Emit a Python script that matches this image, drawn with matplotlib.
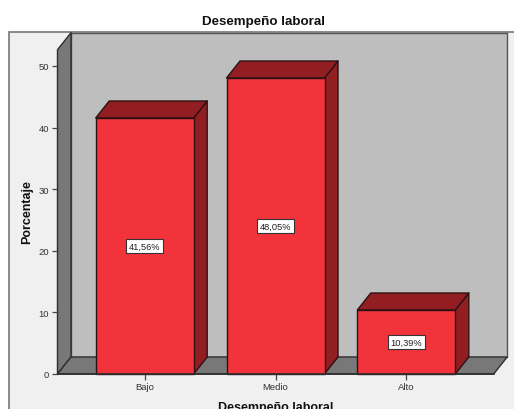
import numpy as np
import matplotlib
matplotlib.use("Agg")
import matplotlib.pyplot as plt
from matplotlib.patches import Polygon, Rectangle

plt.rcParams['font.family'] = ['Liberation Sans', 'DejaVu Sans']

categories = ['Bajo', 'Medio', 'Alto']
values = [41.56, 48.05, 10.39]
bar_labels = ['41,56%', '48,05%', '10,39%']
yticks = [0, 10, 20, 30, 40, 50]

W, H = 514, 410
RED = '#f2333b'
DARK_RED = '#931e22'
EDGE = '#2b1214'

fig = plt.figure(figsize=(W / 100, H / 100), dpi=100)
fig.patch.set_facecolor('white')

# grey panel behind the chart, runs off the right and bottom of the image
fig.add_artist(Rectangle((8.5 / W, -0.05), 1.0, 1.05 - 32.5 / H, transform=fig.transFigure,
                         fc='#f0f0f0', ec='#777777', lw=1.2, zorder=-1))

# front plane of the 3d box in pixels
left, right, bottom, top = 57.5, 493.7, 375.0, 50.7
ax = fig.add_axes([left / W, 1 - bottom / H, (right - left) / W, (bottom - top) / H])
ax.patch.set_visible(False)
for s in ax.spines.values():
    s.set_visible(False)

step = 130.8
x = np.arange(len(categories))
ax.set_xlim((left - 144.7) / step, (right - 144.7) / step)
ax.set_ylim(0, (bottom - top) / 6.16)
xmin, xmax = ax.get_xlim()
ymin, ymax = ax.get_ylim()
dx = 13.5 / step
dy = 17.0 / 6.16
width = 98.0 / step


def poly(pts, fc, ec='#2e2e2e', lw=1.0, z=1):
    ax.add_patch(Polygon(pts, closed=True, fc=fc, ec=ec, lw=lw, zorder=z, clip_on=False, joinstyle='round'))


# walls and floor
poly([(xmin + dx, dy), (xmax + dx, dy), (xmax + dx, ymax + dy), (xmin + dx, ymax + dy)], '#bebebe', ec='#555555')
poly([(xmin, 0), (xmin + dx, dy), (xmin + dx, ymax + dy), (xmin, ymax)], '#787878')
poly([(xmin, 0), (xmax, 0), (xmax + dx, dy), (xmin + dx, dy)], '#787878')

# bars with top and side faces
for i in range(len(values)):
    x0 = x[i] - width / 2
    x1 = x[i] + width / 2
    v = values[i]
    poly([(x1, 0), (x1 + dx, dy), (x1 + dx, v + dy), (x1, v)], DARK_RED, ec=EDGE, z=2)
    poly([(x0, v), (x1, v), (x1 + dx, v + dy), (x0 + dx, v + dy)], DARK_RED, ec=EDGE, z=2)
ax.bar(x, values, width=width, color=RED, edgecolor=EDGE, linewidth=1.0, zorder=3, clip_on=False)

for i in range(len(values)):
    ax.text(x[i], values[i] / 2, bar_labels[i], ha='center', va='center', fontsize=6.7, color='#222222', zorder=5,
            bbox=dict(boxstyle='square,pad=0.28', fc='white', ec='#333333', lw=0.8))

# floor front line on top of bars' base
ax.plot([xmin, xmax], [0, 0], color='#2e2e2e', lw=1.2, zorder=4, clip_on=False)

ax.set_xticks(x)
ax.set_xticklabels(categories)
ax.set_yticks(yticks)
ax.tick_params(axis='both', length=4, width=0.9, color='#444444', labelcolor='#333333', labelsize=6.8, pad=2)

fig.text(263.5 / W, 1 - 21.5 / H, 'Desempeño laboral', ha='center', va='center', fontsize=9.6, fontweight='bold', color='#111111')
fig.text(275.5 / W, 1 - 408 / H, 'Desempeño laboral', ha='center', va='center', fontsize=9.0, fontweight='bold', color='#111111')
fig.text(27.5 / W, 1 - 212.5 / H, 'Porcentaje', ha='center', va='center', rotation=90, fontsize=9.0, fontweight='bold', color='#111111')

fig.savefig('out.png', dpi=100)
